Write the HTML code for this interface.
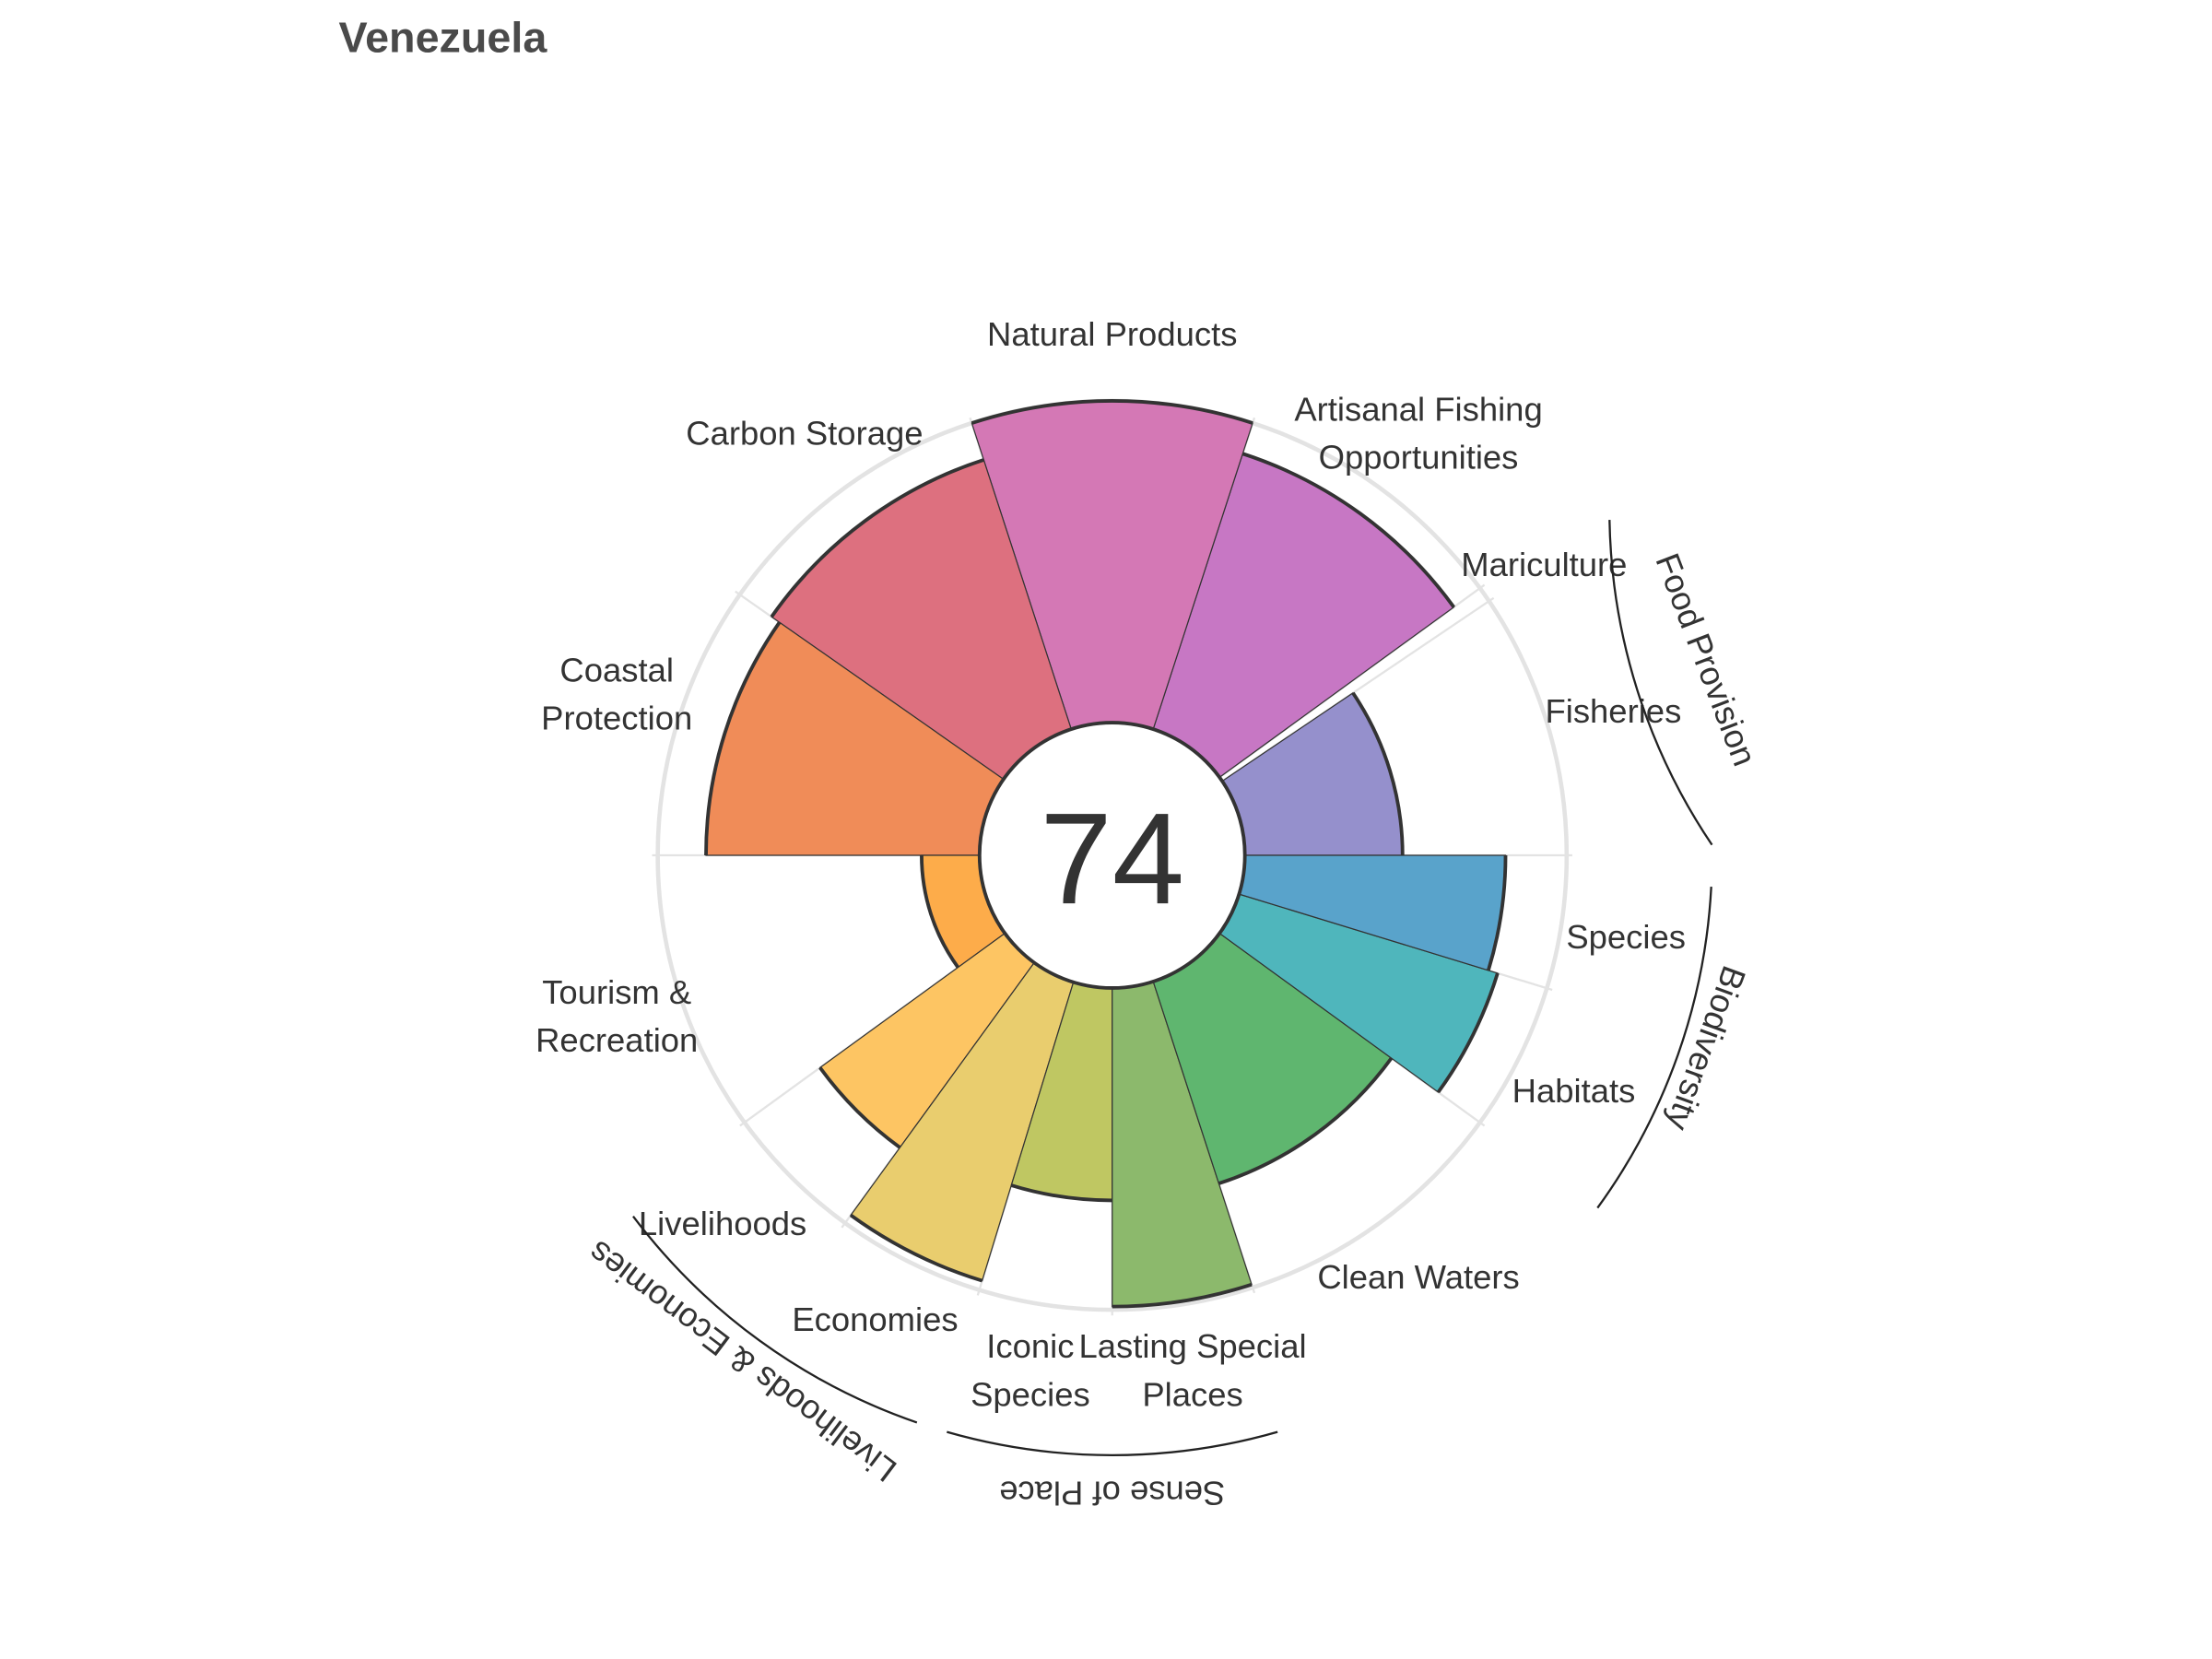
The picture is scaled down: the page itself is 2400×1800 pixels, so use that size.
<!DOCTYPE html>
<html><head><meta charset="utf-8"><style>
html,body{margin:0;padding:0;background:#fff;width:2400px;height:1800px;overflow:hidden}
svg{display:block}
text{font-family:"Liberation Sans",Arial,sans-serif;fill:#333}
</style></head><body>
<svg id="chart" width="2400" height="1800" viewBox="0 0 1567 1175.4" preserveAspectRatio="xMinYMin meet" xmlns="http://www.w3.org/2000/svg">
<text x="240" y="37" font-size="30.5" font-weight="bold" fill="#4a4a4a" style="fill:#4a4a4a">Venezuela</text>
<g id="grid"></g><g id="bars"></g><g id="labels"></g>
<circle cx="788" cy="606" r="94" fill="#fff" stroke="#333" stroke-width="2.5"/>
<text x="788" y="640" font-size="92" text-anchor="middle">74</text>
<g id="groups"></g>
</svg>
<script>
const categories=["Fisheries","Mariculture","Artisanal Fishing Opportunities","Natural Products","Carbon Storage","Coastal Protection","Tourism & Recreation","Livelihoods","Economies","Iconic Species","Lasting Special Places","Clean Waters","Habitats","Species"];
const values=[49,0,90,100,88,85,18,71,97,66,99,66,84,81];
const startAngles=[0,34,36,72,108,145,180,216,234,253,270,288,324,343];
const endAngles=[34,36,72,108,145,180,216,234,253,270,288,324,343,360];
const colors=["#9590cc","#a08ac8","#c777c4","#d478b5","#dd707f","#f08c58","#fdac4a","#fdc563","#e9cd6e","#bfc762","#8cb96c","#5fb66f","#4fb6bc","#59a3cb"];
const CX=788,CY=606,R0=94,R1=322;
const NS="http://www.w3.org/2000/svg";
function rad(v){return R0+v/100*(R1-R0);}
function pt(r,a){const t=a*Math.PI/180;return [CX+r*Math.cos(t),CY-r*Math.sin(t)];}
function mk(tag,attrs,parent){const e=document.createElementNS(NS,tag);for(const k in attrs)e.setAttribute(k,attrs[k]);parent.appendChild(e);return e;}
const grid=document.getElementById('grid'),bars=document.getElementById('bars');
const gc=mk('circle',{cx:CX,cy:CY,r:R1,fill:'none',stroke:'#e3e3e3','stroke-width':3},grid);


startAngles.forEach(a=>{const p=pt(R0,a),q=pt(R1+4,a);
const l=mk('line',{x1:p[0],y1:p[1],x2:q[0],y2:q[1],stroke:'#e3e3e3','stroke-width':1.5},grid);

});
categories.forEach((c,i)=>{
 const r=rad(values[i]),a0=startAngles[i],a1=endAngles[i];
 const p0=pt(R0,a0),p1=pt(r,a0),p2=pt(r,a1),p3=pt(R0,a1);
 const d=`M${p0} L${p1} A${r},${r} 0 0 0 ${p2} L${p3} A${R0},${R0} 0 0 1 ${p0}Z`;
 const w=mk('path',{d:d,fill:colors[i],stroke:'#333','stroke-width':0.8},bars);
 
 
 if(values[i]>0){const o=mk('path',{d:`M${p1} A${r},${r} 0 0 0 ${p2}`,fill:'none',stroke:'#333','stroke-width':2.5},bars);
 
 }
});
const labels=[["Fisheries",1143,512],["Mariculture",1094,408],["Artisanal Fishing|Opportunities",1005,298],["Natural Products",788,245],["Carbon Storage",570,315],["Coastal|Protection",437,483],["Tourism &|Recreation",437,711],["Livelihoods",512,875],["Economies",620,943],["Iconic|Species",730,962],["Lasting Special|Places",845,962],["Clean Waters",1005,913],["Habitats",1115,781],["Species",1152,672]];
const lg=document.getElementById('labels');
labels.forEach(L=>{const parts=L[0].split('|');
 const t=mk('text',{x:L[1],y:L[2],'font-size':23.8,'text-anchor':'middle'},lg);
 
 
 parts.forEach((s,j)=>{const ts=mk('tspan',{x:L[1],dy:j?34:0},t);ts.textContent=s;});});
const gg=document.getElementById('groups');const GR=425;
const groups=[["Food Provision",1,34,1207,468,69],["Biodiversity",-3,-36,1207,742,110],["Sense of Place",-74,-106,788,1056,180],["Livelihoods & Economies",-109,-143,527,963,217]];
groups.forEach(g=>{const p=pt(GR,g[1]),q=pt(GR,g[2]);
 const a=mk('path',{d:`M${p} A${GR},${GR} 0 0 1 ${q}`,fill:'none',stroke:'#222','stroke-width':1.5},gg);
 
 
 const t=mk('text',{x:g[3],y:g[4],'font-size':23.8,'text-anchor':'middle','dominant-baseline':'middle',transform:`rotate(${g[5]} ${g[3]} ${g[4]})`},gg);
 t.textContent=g[0];
 
 });
</script>
</body></html>
